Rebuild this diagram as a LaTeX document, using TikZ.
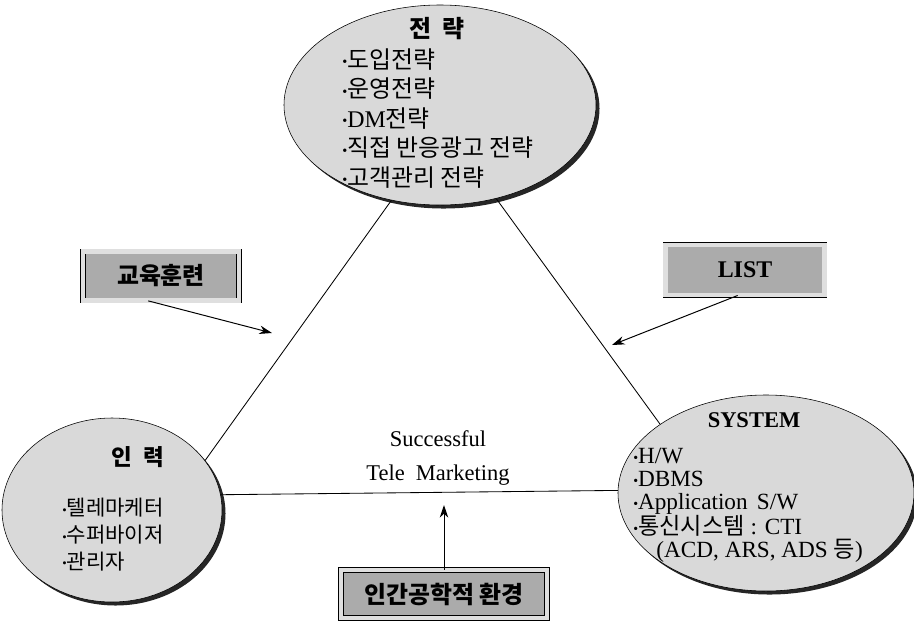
\documentclass[tikz,border=0pt]{standalone}
\usepackage{fontspec}
\setmainfont{Liberation Serif}
\newfontfamily\kr{Noto Sans CJK KR}
\usepackage{tikz}
\usetikzlibrary{shapes.geometric, arrows.meta, shadows}
\newcommand{\idot}{\raisebox{0.12ex}{\scalebox{0.6}{\textbullet}}}
\tikzstyle{topic} = [ellipse, draw=black, fill=gray!30, drop shadow={shadow xshift=2.5pt, shadow yshift=-2.5pt, opacity=1, fill=black!85}]
\tikzstyle{factor} = [rectangle, draw=black, double=gray!25, double distance=3pt, fill=gray!66, text centered, font=\fontsize{17}{20}\selectfont\bfseries]
\tikzstyle{headtext} = [inner sep=0pt, font=\fontsize{17}{20}\selectfont\bfseries]
\tikzstyle{listtext} = [anchor=north west, inner sep=0pt, align=left]
\tikzstyle{link} = [line width=0.6pt]
\tikzstyle{arrow} = [line width=0.7pt, -{Stealth[length=9pt, width=6pt]}]

\begin{document}
\begin{tikzpicture}[node distance=2.2cm]
    \useasboundingbox (-11.0,2.625) rectangle (11.85,-12.95);

    \node (strat) [topic, minimum width=7.8cm, minimum height=5cm] {};
    \node (staff) [topic, below of=strat, xshift=-8.2cm, yshift=-7.925cm, minimum width=5.5cm, minimum height=4.6cm] {};
    \node (sys) [topic, below of=strat, xshift=8.15cm, yshift=-7.5cm, minimum width=7.4cm, minimum height=4.9cm] {};

    \node (strathead) [headtext] at (-0.075,1.9) {\kr 전\hspace{0.45em}략};
    \node (stratlist) [listtext, font=\fontsize{17}{21}\selectfont] at (-2.45,1.425) {\idot{\kr 도입전략}\\ \idot{\kr 운영전략}\\ \idot DM{\kr 전략}\\ \idot{\kr 직접 반응광고 전략}\\ \idot{\kr 고객관리 전략}};
    \node (staffhead) [headtext, font=\fontsize{16}{20}\selectfont\bfseries] at (-7.55,-8.8) {\kr 인\hspace{0.5em}력};
    \node (stafflist) [listtext, font=\fontsize{15}{19}\selectfont] at (-9.45,-9.825) {\idot{\kr 텔레마케터}\\ \idot{\kr 수퍼바이저}\\ \idot{\kr 관리자}};
    \node (syshead) [headtext, font=\fontsize{16}{18}\selectfont\bfseries] at (7.85,-7.875) {SYSTEM};
    \node (syslist) [listtext, font=\fontsize{16.5}{16.3}\selectfont] at (4.825,-8.575) {\idot H/W\\ \idot DBMS\\ \idot Application\hspace{0.4em}S/W\\ \idot{\kr 통신시스템} : CTI\\ \hspace*{1.0em}(ACD, ARS, ADS {\kr 등})};

    \node (goal) [below of=strat, xshift=-0.05cm, yshift=-6.625cm, align=center, font=\fontsize{16}{23.5}\selectfont] {Successful\\ Tele\hspace{0.5em}Marketing};

    \node (edu) [factor, left of=strat, xshift=-4.775cm, yshift=-4.275cm, minimum width=3.9cm, minimum height=1.23cm] {{\kr 교육훈련}};
    \node (list) [factor, right of=strat, xshift=5.425cm, yshift=-4.125cm, minimum width=3.98cm, minimum height=1.26cm] {LIST};
    \node (env) [factor, below of=strat, xshift=0.1cm, yshift=-10.025cm, minimum width=5.15cm, minimum height=1.2cm] {{\kr 인간공학적 환경}};

    \coordinate (edutip) at (-4.2,-5.7);
    \coordinate (listtip) at (4.3,-6.0);
    \coordinate (envtip) at (0.1,-10.0);

    \draw [link] (strat.243) -- (staff.28);
    \draw [link] (strat.301) -- (sys.147);
    \draw [link] (staff.8) -- (sys.179);
    \draw [arrow] (edu.243) -- (edutip);
    \draw [arrow] (list.254) -- (listtip);
    \draw [arrow] (env.north) -- (envtip);
\end{tikzpicture}
\end{document}
